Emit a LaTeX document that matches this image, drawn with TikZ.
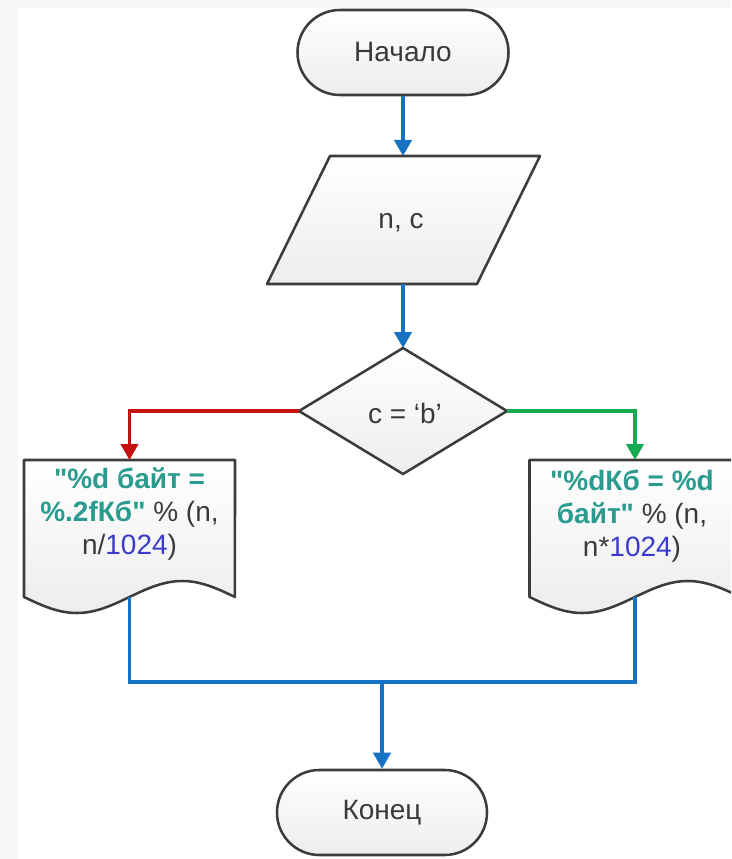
\documentclass[tikz,border=0pt]{standalone}
\usepackage{fontspec}
\setmainfont{Liberation Sans}[Ligatures=TeXOff]
\usetikzlibrary{arrows.meta}
\definecolor{bgc}{HTML}{F6F7F9}
\definecolor{edge}{HTML}{3C3C3C}
\definecolor{txt}{HTML}{3A3A3A}
\definecolor{flow}{RGB}{22,115,196}
\definecolor{yes}{RGB}{196,16,16}
\definecolor{no}{RGB}{24,170,82}
\definecolor{strc}{RGB}{42,155,142}
\definecolor{numc}{RGB}{58,58,206}
\begin{document}
\begin{tikzpicture}[x=0.75pt,y=-0.75pt,
  shapeline/.style={draw=edge, line width=1.9pt, top color=white, bottom color=black!7, line join=round},
  anchorbox/.style={inner sep=0pt, outer sep=0pt},
  lbl/.style={font=\fontsize{21}{24.75}\selectfont, text=txt, align=center},
  conn/.style={line width=2.5pt, -{Triangle[length=12pt,width=13pt]}},
  link/.style={line width=2.5pt}]
\useasboundingbox (0,0) rectangle (731,859);
\fill[bgc] (0,0) rectangle (731,859);
\fill[white] (18,8) rectangle (731,859);
\begin{scope}
\clip (0,0) rectangle (731,859);

% start terminal
\node[shapeline, rounded corners=31.8pt, minimum width=158.25pt, minimum height=63.75pt, lbl] (start) at (403,52.5) {Начало};

% input parallelogram
\path[shapeline] (330,156) -- (540,156) -- (477,284) -- (267,284) -- cycle;
\node[anchorbox, minimum width=157.5pt, minimum height=96pt] (io) at (403,220) {};
\node[lbl] (iotext) at (401,223) {n, c};

% decision
\path[shapeline] (403,348) -- (507,411) -- (403,474) -- (299,411) -- cycle;
\node[anchorbox, minimum width=156pt, minimum height=94.5pt] (dec) at (403,411) {};
\node[lbl] (dectext) at (405,413) {c = ‘b’};

% left document
\path[shapeline] (24,460) -- (24,597) -- plot[domain=0:1, samples=41, smooth] ({24+211*\x},{597+16*sin(360*\x)}) -- (235,460) -- cycle;
\node[anchorbox, minimum width=158.25pt, minimum height=102.75pt] (ldoc) at (129.5,528.5) {};
\node[lbl] (ltext) at (129.5,514) {{\bfseries\color{strc}"\%d байт =}\\{\bfseries\color{strc}\%.2fКб"} \% (n,\\n/{\color{numc}1024})};

% right document
\path[shapeline] (529.5,460) -- (529.5,597) -- plot[domain=0:1, samples=41, smooth] ({529.5+211*\x},{597+16*sin(360*\x)}) -- (740.5,460) -- cycle;
\node[anchorbox, minimum width=158.25pt, minimum height=102.75pt] (rdoc) at (635,528.5) {};
\node[lbl] (rtext) at (632,516) {{\bfseries\color{strc}"\%dКб = \%d}\\{\bfseries\color{strc}байт"} \% (n,\\n*{\color{numc}1024})};

% end terminal
\node[shapeline, rounded corners=31.8pt, minimum width=157.5pt, minimum height=63.75pt, lbl] (end) at (382,812.5) {Конец};

% connectors
\draw[conn, flow] (start.south) -- (io.north);
\draw[conn, flow] (io.south) -- (dec.north);
\draw[conn, yes] (dec.west) -| (ldoc.north);
\draw[conn, no] (dec.east) -| (rdoc.north);
\coordinate (join) at (382,682);
\draw[link, flow, line join=miter] (ldoc.south) |- (join) -| (rdoc.south);
\draw[conn, flow] (join) -- (end.north);
\end{scope}
\end{tikzpicture}
\end{document}
